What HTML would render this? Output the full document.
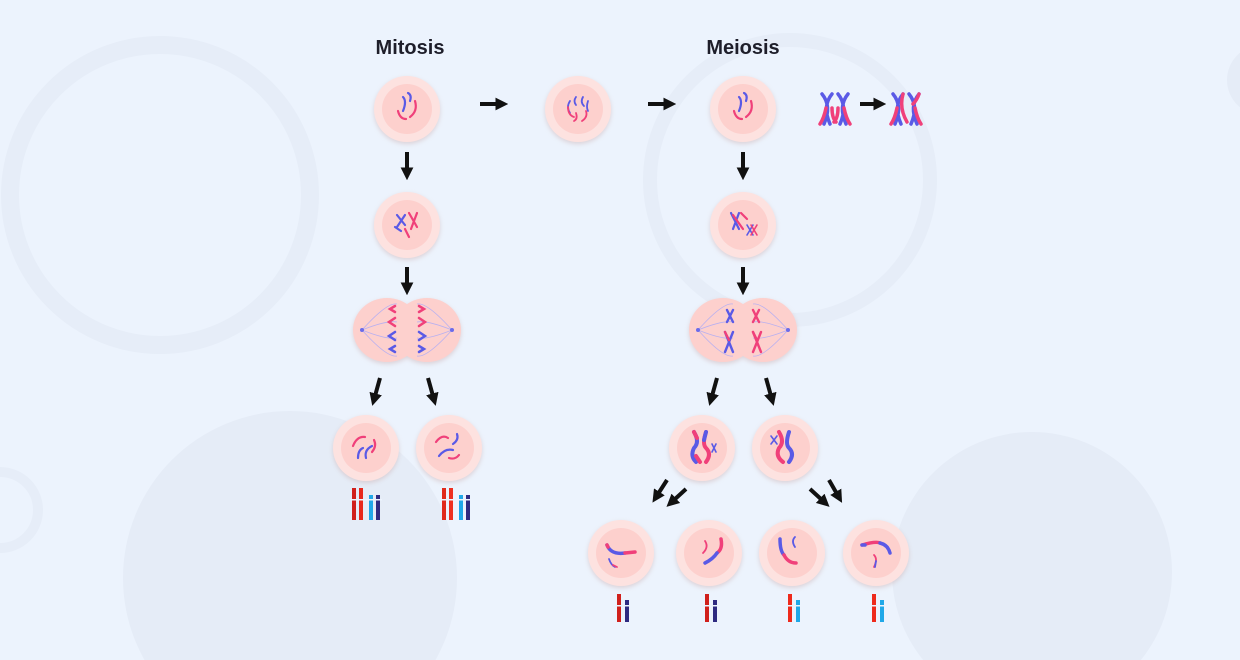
<!DOCTYPE html>
<html><head><meta charset="utf-8"><style>
html,body{margin:0;padding:0;background:#ecf3fd;width:1240px;height:660px;overflow:hidden;}
svg{display:block;font-family:"Liberation Sans",sans-serif;}
</style></head><body>
<svg width="1240" height="660" viewBox="0 0 1240 660">
<defs>
<marker id="ah" viewBox="0 0 10 10" refX="2" refY="5" markerWidth="3.2" markerHeight="3.2" orient="auto"><path d="M0,0 L10,5 L0,10 z" fill="#111"/></marker>
<filter id="sh" x="-30%" y="-30%" width="160%" height="160%"><feDropShadow dx="0" dy="2" stdDeviation="2.5" flood-color="#c9a9a9" flood-opacity="0.45"/></filter>
<g id="cell"><circle r="33" fill="#fde2e0" filter="url(#sh)"/><circle r="25" fill="#fdd0cd"/></g>
</defs>
<rect width="1240" height="660" fill="#ecf3fd"/>
<g fill="none">
<circle cx="160" cy="195" r="150" stroke="#e6edf8" stroke-width="18"/>
<circle cx="790" cy="180" r="140" stroke="#e6edf8" stroke-width="14"/>
<circle cx="290" cy="578" r="167" fill="#e5ecf7"/>
<circle cx="1032" cy="572" r="140" fill="#e5ecf7"/>
<circle cx="0" cy="510" r="38" stroke="#e6edf8" stroke-width="10"/>
<circle cx="1262" cy="80" r="35" fill="#e5ecf7"/>
</g>
<text x="410" y="54" font-size="20" font-weight="bold" fill="#1e1e2a" text-anchor="middle">Mitosis</text>
<text x="743" y="54" font-size="20" font-weight="bold" fill="#1e1e2a" text-anchor="middle">Meiosis</text>

<g stroke="#111" stroke-width="4" marker-end="url(#ah)">
<line x1="480" y1="104" x2="498" y2="104"/>
<line x1="648" y1="104" x2="666" y2="104"/>
<line x1="860" y1="104" x2="876" y2="104"/>
<line x1="407" y1="152" x2="407" y2="170"/>
<line x1="407" y1="267" x2="407" y2="285"/>
<line x1="743" y1="152" x2="743" y2="170"/>
<line x1="743" y1="267" x2="743" y2="285"/>
<line x1="380" y1="378" x2="375" y2="396"/>
<line x1="428" y1="378" x2="433" y2="396"/>
<line x1="717" y1="378" x2="712" y2="396"/>
<line x1="766" y1="378" x2="771" y2="396"/>
<line x1="667" y1="480" x2="658" y2="494"/>
<line x1="686" y1="489" x2="674" y2="500"/>
<line x1="810" y1="489" x2="822" y2="500"/>
<line x1="829" y1="480" x2="837" y2="494"/>
</g>

<g transform="translate(407,109)"><use href="#cell"/>
<g fill="none" stroke-width="2.2" stroke-linecap="round"><path d="M-4,-12 q4,4 0,14" stroke="#5a5ae6"/><path d="M1,-16 q4,2 2,8" stroke="#5a5ae6"/><path d="M-9,2 q2,8 8,8" stroke="#f0407a"/><path d="M8,-8 q3,10 -5,16" stroke="#f0407a"/></g></g>
<g transform="translate(407,225)"><use href="#cell"/>
<g fill="none" stroke-width="2.2" stroke-linecap="round"><path d="M-10,-10 l8,10 M-2,-10 l-8,12 M-12,2 l6,4" stroke="#5a5ae6"/><path d="M2,-12 l8,14 M10,-12 l-6,16 M-2,4 l4,8" stroke="#f0407a"/></g></g>
<g transform="translate(407,330)">
<g filter="url(#sh)" fill="#fdd0cd"><ellipse cx="-20" cy="0" rx="34" ry="32"/><ellipse cx="20" cy="0" rx="34" ry="32"/></g>
<g fill="none" stroke="#b8b0f0" stroke-width="0.8"><path d="M-45,0 Q-20,-28 -10,-26 M-45,0 Q-20,-10 -10,-8 M-45,0 Q-20,10 -10,8 M-45,0 Q-20,28 -10,26 M45,0 Q20,-28 10,-26 M45,0 Q20,-10 10,-8 M45,0 Q20,10 10,8 M45,0 Q20,28 10,26"/></g>
<circle cx="-45" cy="0" r="2" fill="#6b6bea"/><circle cx="45" cy="0" r="2" fill="#6b6bea"/>
<g fill="none" stroke-width="2.5" stroke-linecap="round"><path d="M-12,-24 l-5,3 l5,3 M-12,-12 l-6,4 l6,4 M12,-24 l5,3 l-5,3 M12,-12 l6,4 l-6,4" stroke="#f0407a"/><path d="M-12,2 l-6,4 l6,4 M-12,16 l-5,3 l5,3 M12,2 l6,4 l-6,4 M12,16 l5,3 l-5,3" stroke="#5a5ae6"/></g></g>
<g transform="translate(366,448)"><use href="#cell"/>
<g fill="none" stroke-width="2.2" stroke-linecap="round"><path d="M-13,-2 q4,-10 12,-9" stroke="#f0407a"/><path d="M8,-8 q3,6 -2,12" stroke="#f0407a"/><path d="M-8,10 q0,-8 5,-10 M0,10 q-2,-8 6,-12" stroke="#5a5ae6"/></g></g>
<g transform="translate(449,448)"><use href="#cell"/>
<g fill="none" stroke-width="2.2" stroke-linecap="round"><path d="M-13,-6 q6,-8 12,-4" stroke="#f0407a"/><path d="M8,-14 q2,6 -4,10" stroke="#5a5ae6"/><path d="M-10,8 q6,-8 14,-6" stroke="#5a5ae6"/><path d="M0,10 q6,2 10,-3" stroke="#f0407a"/></g></g>
<g><rect x="352" y="488" width="4" height="32" fill="#d0201c"/><rect x="359" y="488" width="4" height="32" fill="#e8281c"/><rect x="369" y="495" width="4" height="25" fill="#20a8e8"/><rect x="376" y="495" width="4" height="25" fill="#2e2a80"/><rect x="350" y="499" width="32" height="1.5" fill="#ecf3fd"/></g>
<g><rect x="442" y="488" width="4" height="32" fill="#e02a1c"/><rect x="449" y="488" width="4" height="32" fill="#ee3020"/><rect x="459" y="495" width="4" height="25" fill="#20a8e8"/><rect x="466" y="495" width="4" height="25" fill="#2e2a80"/><rect x="440" y="499" width="32" height="1.5" fill="#ecf3fd"/></g>

<g transform="translate(578,109)"><use href="#cell"/>
<g fill="none" stroke-width="1.8" stroke-linecap="round"><path d="M-8,-8 q-4,6 0,12 M-2,-12 q-3,4 0,8 M5,-12 q-3,5 1,9 M10,-8 q-2,6 0,10" stroke="#5a5ae6"/><path d="M-10,-2 q0,8 6,10 M-2,4 q2,6 -2,8 M8,2 q2,6 -4,10" stroke="#f0407a"/></g></g>
<g transform="translate(743,109)"><use href="#cell"/>
<g fill="none" stroke-width="2.2" stroke-linecap="round"><path d="M-4,-12 q4,4 0,14" stroke="#5a5ae6"/><path d="M1,-16 q4,2 2,8" stroke="#5a5ae6"/><path d="M-9,2 q2,8 8,8" stroke="#f0407a"/><path d="M8,-8 q3,10 -5,16" stroke="#f0407a"/></g></g>
<g transform="translate(743,225)"><use href="#cell"/>
<g fill="none" stroke-width="2.2" stroke-linecap="round"><path d="M-12,-12 l8,16 M-4,-12 l-6,16" stroke="#5a5ae6"/><path d="M-10,-10 l10,14 M-2,-12 l6,6" stroke="#f0407a"/><path d="M4,0 l6,10 M10,0 l-6,10" stroke="#5a5ae6" stroke-width="1.6"/><path d="M8,0 l6,10 M14,0 l-6,10" stroke="#f0407a" stroke-width="1.6"/></g></g>
<g transform="translate(743,330)">
<g filter="url(#sh)" fill="#fdd0cd"><ellipse cx="-20" cy="0" rx="34" ry="32"/><ellipse cx="20" cy="0" rx="34" ry="32"/></g>
<g fill="none" stroke="#b8b0f0" stroke-width="0.8"><path d="M-45,0 Q-20,-28 -10,-26 M-45,0 Q-20,-10 -10,-8 M-45,0 Q-20,10 -10,8 M-45,0 Q-20,28 -10,26 M45,0 Q20,-28 10,-26 M45,0 Q20,-10 10,-8 M45,0 Q20,10 10,8 M45,0 Q20,28 10,26"/></g>
<circle cx="-45" cy="0" r="2" fill="#6b6bea"/><circle cx="45" cy="0" r="2" fill="#6b6bea"/>
<g fill="none" stroke-width="2.4" stroke-linecap="round"><path d="M-16,-20 l6,12 M-10,-20 l-6,12 M-18,2 l8,20 M-10,2 l-8,20" stroke="#5a5ae6"/><path d="M10,-20 l6,12 M16,-20 l-6,12 M10,2 l8,20 M18,2 l-8,20" stroke="#f0407a"/><path d="M-18,2 l4,8 M10,2 l4,8" stroke="#f0407a"/></g></g>
<g transform="translate(702,448)"><use href="#cell"/>
<g fill="none" stroke-width="4" stroke-linecap="round"><path d="M-8,-16 q6,10 0,16 q-4,8 2,14" stroke="#5a5ae6"/><path d="M-8,-16 l3,6 M-6,8 l4,6" stroke="#f0407a"/><path d="M4,-16 q-4,12 0,16 q6,6 0,14" stroke="#f0407a"/><path d="M4,-16 l-2,8" stroke="#5a5ae6"/><path d="M10,-4 l4,8 M14,-4 l-4,8" stroke="#5a5ae6" stroke-width="1.6"/></g></g>
<g transform="translate(785,448)"><use href="#cell"/>
<g fill="none" stroke-width="4" stroke-linecap="round"><path d="M-6,-16 q6,10 0,16 q-4,8 4,14" stroke="#f0407a"/><path d="M4,-16 q-4,12 0,16 q6,6 0,14" stroke="#5a5ae6"/><path d="M-14,-12 l6,8 M-8,-12 l-6,8" stroke="#5a5ae6" stroke-width="1.6"/></g></g>
<g transform="translate(621,553)"><use href="#cell"/>
<g fill="none" stroke-width="3.5" stroke-linecap="round"><path d="M-14,-8 q4,10 18,8" stroke="#5a5ae6"/><path d="M4,0 l10,-1" stroke="#f0407a"/><path d="M-14,-8 l1,2" stroke="#f0407a"/><path d="M-12,6 q2,6 6,8" stroke="#5a5ae6" stroke-width="1.8"/><path d="M-8,12 l4,2" stroke="#f0407a" stroke-width="1.8"/></g></g>
<g transform="translate(709,553)"><use href="#cell"/>
<g fill="none" stroke-width="3.5" stroke-linecap="round"><path d="M12,-14 q2,10 -4,14" stroke="#f0407a"/><path d="M8,0 q-4,6 -12,10" stroke="#5a5ae6"/><path d="M-4,-12 q4,6 -2,12" stroke="#f0407a" stroke-width="1.8"/></g></g>
<g transform="translate(792,553)"><use href="#cell"/>
<g fill="none" stroke-width="3.5" stroke-linecap="round"><path d="M-12,-14 q0,12 4,16" stroke="#5a5ae6"/><path d="M-8,2 q4,8 12,8" stroke="#f0407a"/><path d="M3,-16 q-4,4 0,10" stroke="#5a5ae6" stroke-width="1.8"/></g></g>
<g transform="translate(876,553)"><use href="#cell"/>
<g fill="none" stroke-width="3.5" stroke-linecap="round"><path d="M-14,-8 q14,-4 18,-2" stroke="#f0407a"/><path d="M4,-10 q8,2 10,10" stroke="#5a5ae6"/><path d="M-14,-8 l3,0" stroke="#5a5ae6"/><path d="M-2,2 q4,4 0,12" stroke="#f0407a" stroke-width="1.8"/><path d="M0,8 l-1,6" stroke="#5a5ae6" stroke-width="1.8"/></g></g>

<g><rect x="617" y="594" width="4" height="28" fill="#d0201c"/><rect x="625" y="600" width="4" height="22" fill="#2e2a80"/><rect x="615" y="605" width="16" height="1.5" fill="#ecf3fd"/></g>
<g><rect x="705" y="594" width="4" height="28" fill="#d0201c"/><rect x="713" y="600" width="4" height="22" fill="#2e2a80"/><rect x="703" y="605" width="16" height="1.5" fill="#ecf3fd"/></g>
<g><rect x="788" y="594" width="4" height="28" fill="#ee2a1c"/><rect x="796" y="600" width="4" height="22" fill="#20a8e8"/><rect x="786" y="605" width="16" height="1.5" fill="#ecf3fd"/></g>
<g><rect x="872" y="594" width="4" height="28" fill="#ee2a1c"/><rect x="880" y="600" width="4" height="22" fill="#20a8e8"/><rect x="870" y="605" width="16" height="1.5" fill="#ecf3fd"/></g>

<g fill="none" stroke-width="3.5" stroke-linecap="round">
<path d="M822,94 q10,12 2,30 M832,94 q-10,12 -2,30" stroke="#5a5ae6"/><path d="M838,94 q10,12 2,30 M848,94 q-10,12 -2,30" stroke="#5a5ae6"/>
<path d="M826,108 q-2,10 -6,16 M844,108 q2,10 6,16 M832,108 q0,10 4,14 M838,108 q0,10 -4,14" stroke="#f0407a"/>
<path d="M893,94 q10,12 2,30 M903,94 q-10,12 -2,30 M909,94 q10,12 2,30 M919,94 q-10,12 -2,30" stroke="#5a5ae6"/>
<path d="M897,108 q-2,10 -6,16 M903,94 q-4,14 4,28 M915,108 q2,10 6,16 M919,94 q-2,6 -6,10" stroke="#f0407a"/>
</g>
</svg>
</body></html>
